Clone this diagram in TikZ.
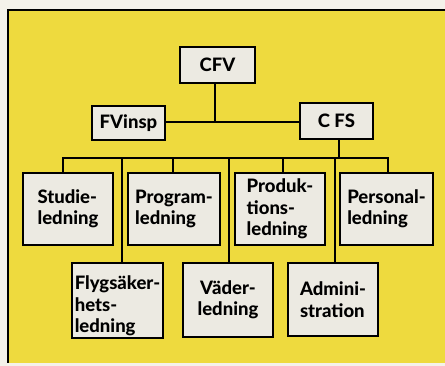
\documentclass[tikz,border=0pt]{standalone}
\usepackage{fontspec}
\setmainfont{Lato}[BoldFont={Lato Heavy}]
\definecolor{paper}{RGB}{244,242,234}
\definecolor{ylw}{RGB}{238,218,62}
\definecolor{boxfill}{RGB}{236,234,226}
\tikzset{
  orgbox/.style={draw=black, line width=2.8pt, fill=boxfill, inner sep=0pt,
    font=\bfseries\fontsize{18.5}{21.5}\selectfont, align=left},
  conn/.style={draw=black, line width=2.4pt},
}
\begin{document}
\begin{tikzpicture}[x=1pt,y=-1pt]
\useasboundingbox (0,0) rectangle (445,366);
\fill[paper] (0,0) rectangle (445,366);
\fill[ylw] (8,10) rectangle (445,363);
\draw[line width=1.8pt] (8,363) -- (8,10) -- (445,10);

% connectors
\coordinate (j1) at (215,122);
\coordinate (j2) at (339,158);
\coordinate (bl) at (63,158);
\coordinate (br) at (388,158);
\coordinate (d1) at (63,158);
\coordinate (d2) at (122,158);
\coordinate (d3) at (173,158);
\coordinate (d4) at (229,158);
\coordinate (d5) at (283,158);
\coordinate (d6) at (335,158);
\coordinate (d7) at (388,158);

% boxes
\node[orgbox, minimum width=75pt, minimum height=36pt, align=center] (cfv) at (217.5,65) {CFV};
\node[orgbox, minimum width=73pt, minimum height=34pt, align=center] (fvi) at (128.5,123) {FVinsp};
\node[orgbox, minimum width=73pt, minimum height=36pt, align=center] (cfs) at (336.5,121) {C FS};

\draw[conn] (cfv.south -| j1) -- (j1);
\draw[conn] (fvi.east |- j1) -- (cfs.west |- j1);
\draw[conn] (cfs.south -| j2) -- (j2);
\draw[conn, line cap=rect] (bl) -- (br);

\node[orgbox, minimum width=90pt, minimum height=72pt] (stu) at (68,209) {Studie-\\ledning};
\node[orgbox, minimum width=92pt, minimum height=72pt] (pro) at (174,209) {Program-\\ledning};
\node[orgbox, minimum width=90pt, minimum height=72pt] (prd) at (280,209) {Produk-\\tions-\\ledning};
\node[orgbox, minimum width=93pt, minimum height=72pt] (per) at (386.5,209) {Personal-\\ledning};
\node[orgbox, minimum width=91pt, minimum height=75pt] (fly) at (117.5,300.5) {\rule{0pt}{25pt}Flygsäker-\\hets-\\ledning};
\node[orgbox, minimum width=90pt, minimum height=74pt, align=center] (vad) at (228,300) {Väder-\\ledning};
\node[orgbox, minimum width=90pt, minimum height=73pt] (adm) at (333,299.5) {Admini-\\stration};

\draw[conn] (d1) -- (stu.north -| d1);
\draw[conn] (d3) -- (pro.north -| d3);
\draw[conn] (d5) -- (prd.north -| d5);
\draw[conn] (d7) -- (per.north -| d7);
\draw[conn] (d2) -- (fly.north -| d2);
\draw[conn] (d4) -- (vad.north -| d4);
\draw[conn] (d6) -- (adm.north -| d6);
\end{tikzpicture}
\end{document}
